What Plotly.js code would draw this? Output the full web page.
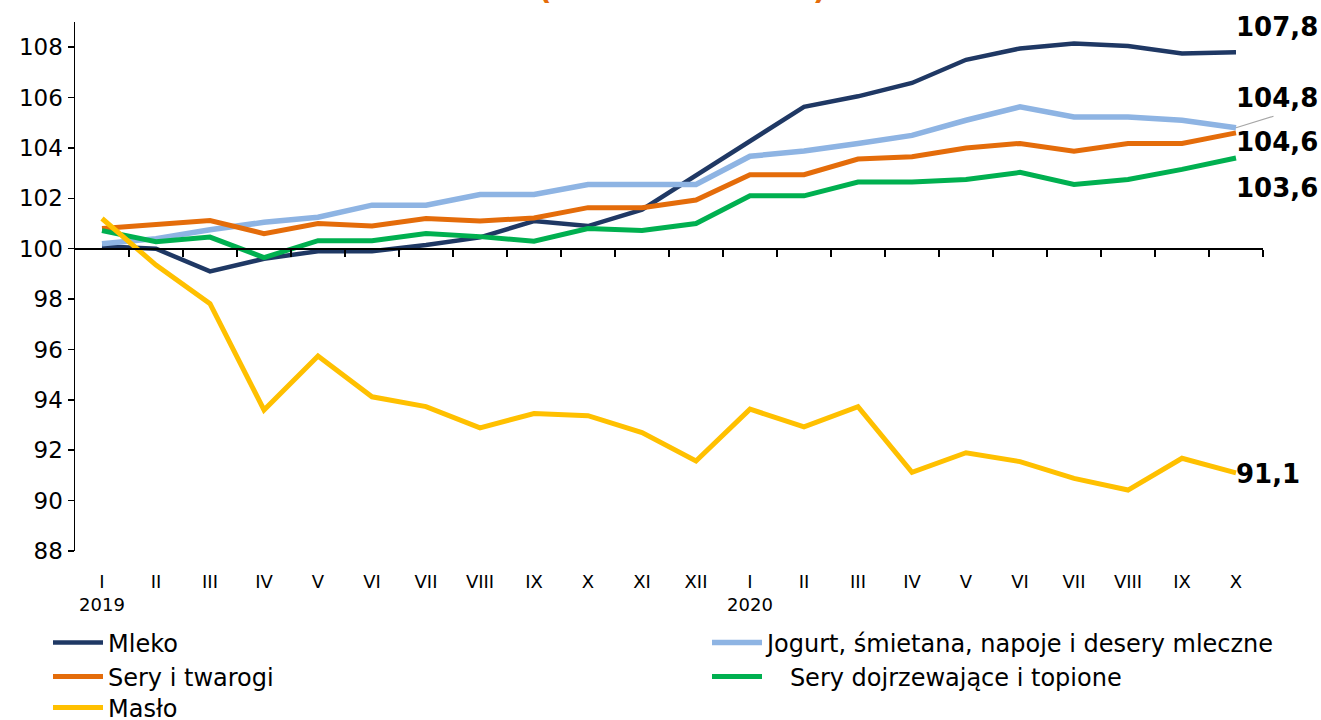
<!DOCTYPE html>
<html>
<head>
<meta charset="utf-8">
<script src="https://cdn.plot.ly/plotly-3.0.1.min.js"></script>
<style>html,body{margin:0;padding:0;background:#fff}#chart{width:1321px;height:720px}</style>
</head>
<body>
<div id="chart"></div>
<script>
// Month labels (tick text)
const months = ["I<br>2019","II","III","IV","V","VI","VII","VIII","IX","X","XI","XII",
                "I<br>2020","II","III","IV","V","VI","VII","VIII","IX","X"];

// Series values (index, base = 100)
const mleko   = [100.1,100.0,99.1,99.6,99.9,99.9,100.15,100.45,101.1,100.9,101.55,102.9,
                 104.3,105.63,106.05,106.58,107.5,107.95,108.15,108.05,107.75,107.8];
const jogurt  = [100.2,100.4,100.75,101.05,101.25,101.73,101.73,102.15,102.15,102.55,102.55,102.55,
                 103.67,103.88,104.18,104.5,105.1,105.63,105.23,105.23,105.1,104.8];
const sery    = [100.8,100.94,101.12,100.6,101.0,100.9,101.2,101.1,101.22,101.63,101.63,101.93,
                 102.94,102.94,103.56,103.65,104.0,104.18,103.87,104.18,104.18,104.6];
const seryDojrz = [100.72,100.28,100.46,99.65,100.32,100.32,100.6,100.48,100.3,100.8,100.72,101.0,
                 102.1,102.1,102.65,102.65,102.75,103.03,102.55,102.75,103.15,103.6];
const maslo   = [101.2,99.35,97.82,93.6,95.74,94.12,93.73,92.89,93.46,93.37,92.7,91.57,
                 93.63,92.93,93.73,91.12,91.9,91.55,90.88,90.42,91.68,91.1];

const names = ["Mleko","Jogurt, śmietana, napoje i desery mleczne","Sery i twarogi",
               "\u00a0\u00a0\u00a0Sery dojrzewające i topione","Masło"];

const idx = months.map((_, i) => i);
const font = "Verdana, DejaVu Sans, sans-serif";

function tr(y, name, color, width, legend) {
  return {x: idx, y: y, name: name, type: "scatter", mode: "lines",
          line: {color: color, width: width}, legend: legend, hoverinfo: "y+name"};
}

const traces = [
  tr(mleko, names[0], "#1f3864", 4.5, "legend"),
  tr(jogurt, names[1], "#8eb4e3", 5.5, "legend2"),
  tr(sery, names[2], "#e46c0a", 5, "legend3"),
  tr(seryDojrz, names[3], "#00b050", 5, "legend4"),
  tr(maslo, names[4], "#ffc000", 5, "legend5"),
  {x: [], y: [], xaxis: "x2", yaxis: "y", showlegend: false, hoverinfo: "skip", type: "scatter"}
];

const last = idx.length - 1;
const fmt = v => v.toFixed(1).replace(".", ",");
const lblFont = {family: font, size: 26, color: "#000"};
function lbl(v, yshift) {
  return {x: last, y: v, xref: "x", yref: "y", text: "<b>" + fmt(v) + "</b>", showarrow: false,
          xanchor: "left", yanchor: "middle", xshift: -2, yshift: yshift, font: lblFont};
}

function leg(px, py) {
  return {orientation: "h", xref: "container", yref: "container",
    xanchor: "left", yanchor: "middle", x: px / 1321, y: 1 - py / 720, itemwidth: 50,
    font: {family: font, size: 24, color: "#000"},
    bgcolor: "rgba(0,0,0,0)", borderwidth: 0, itemclick: false};
}

const layout = {
  width: 1321, height: 720,
  margin: {l: 75, r: 58, t: 22, b: 169},
  paper_bgcolor: "#fff", plot_bgcolor: "#fff",
  font: {family: font, color: "#000"},
  xaxis: {range: [-0.5, 21.5], tickvals: idx, ticktext: months, showline: false, showgrid: false,
          zeroline: false, ticks: "outside", ticklen: 14, tickcolor: "rgba(0,0,0,0)",
          tickfont: {family: font, size: 18, color: "#000"}, fixedrange: true},
  xaxis2: {overlaying: "x", anchor: "free", position: 12 / 21, range: [-0.5, 21.5],
           tickvals: idx.map(i => i + 0.5), showticklabels: false, ticks: "outside",
           ticklen: 7, tickwidth: 2, tickcolor: "#000", showline: true, linewidth: 2.5,
           linecolor: "#000", showgrid: false, zeroline: false, side: "bottom", fixedrange: true},
  yaxis: {range: [88, 109], tick0: 88, dtick: 2, showline: true, linewidth: 1.5, linecolor: "#000",
          ticks: "outside", ticklen: 6, tickwidth: 1.5, tickcolor: "#000", showgrid: false,
          zeroline: false, tickfont: {family: font, size: 23, color: "#000"}, fixedrange: true},
  legend:  leg(48, 643),
  legend2: leg(707, 643),
  legend3: leg(48, 677),
  legend4: leg(707, 677),
  legend5: leg(48, 708),
  showlegend: true,
  annotations: [
    lbl(mleko[last], 25),
    {x: last, y: jogurt[last], xref: "x", yref: "y", text: "", showarrow: true, arrowhead: 0,
     arrowwidth: 1.2, arrowcolor: "#a6a6a6", ax: 39, ay: -12, standoff: 0},
    lbl(jogurt[last], 30),
    lbl(sery[last], -9),
    lbl(seryDojrz[last], -30),
    lbl(maslo[last], -1),
    {xref: "paper", yref: "paper", x: 0.511, y: 1, xanchor: "center", yanchor: "bottom",
     yshift: 14, showarrow: false,
     text: "<b>(" + "\u00a0".repeat(25) + ")</b>",
     font: {family: font, size: 30, color: "#e46c0a"}}
  ]
};

Plotly.newPlot("chart", traces, layout, {displayModeBar: false, staticPlot: true});
</script>
</body>
</html>
